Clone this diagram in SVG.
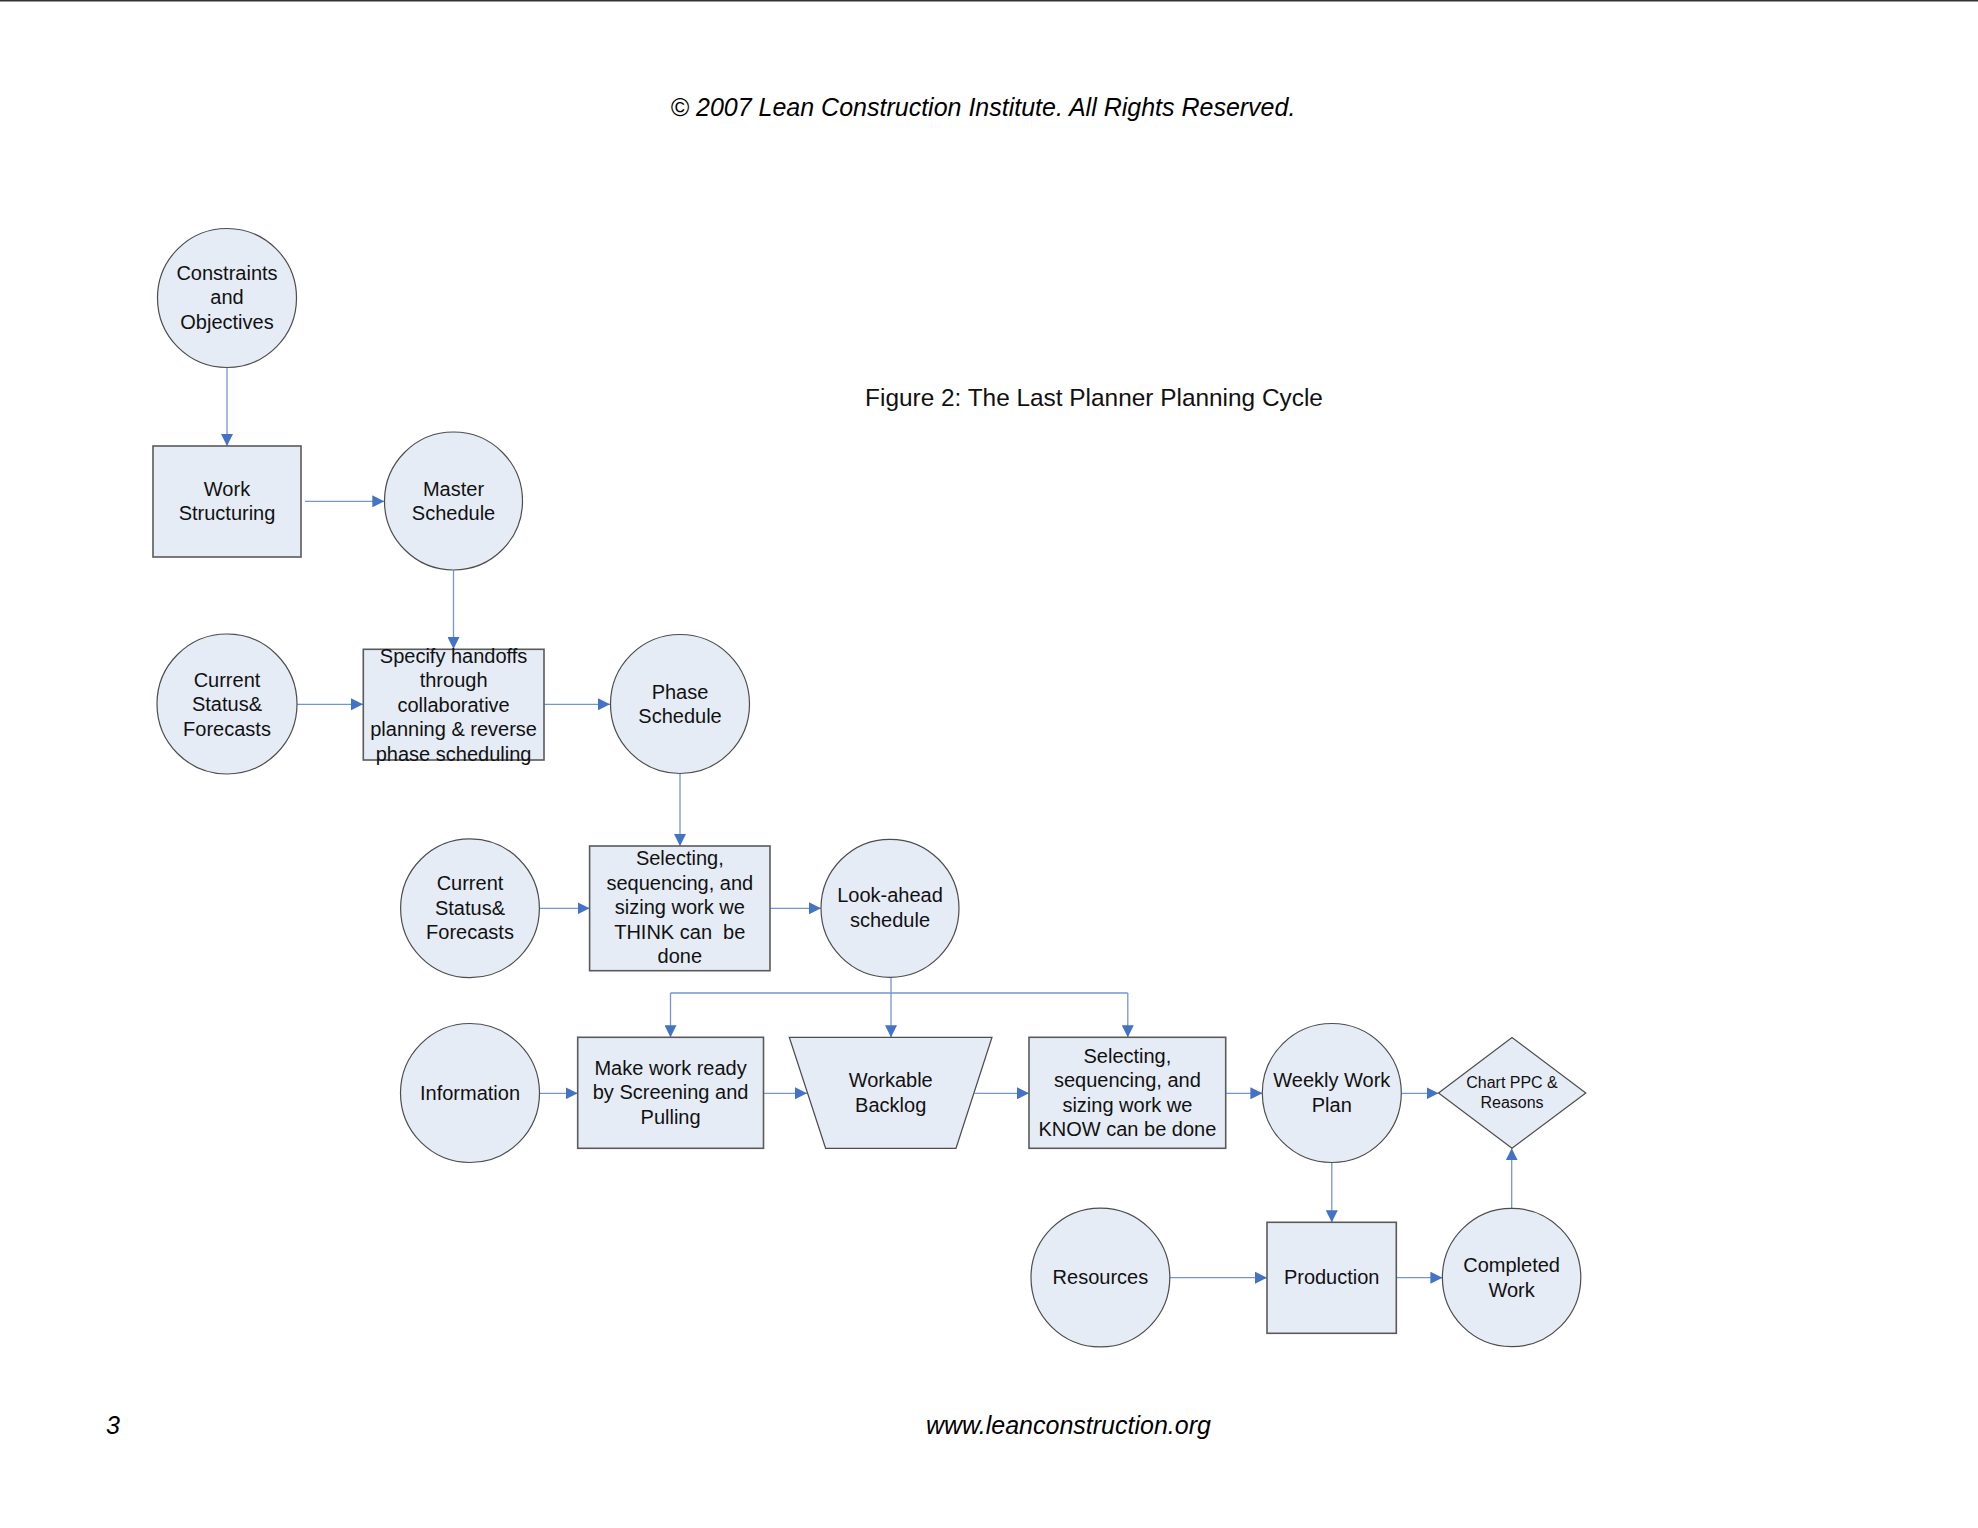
<svg xmlns="http://www.w3.org/2000/svg" width="1978" height="1528" viewBox="0 0 1978 1528">
<style>
.nd{fill:#E6ECF6;stroke:#4d4d4d;stroke-width:1.2}
.rc{fill:#E6ECF6;stroke:#5a5a5a;stroke-width:1.6}
.t{font-family:"Liberation Sans",Arial,sans-serif;font-size:20px;fill:#111;text-anchor:middle}
.ts{font-family:"Liberation Sans",Arial,sans-serif;font-size:16px;fill:#111;text-anchor:middle}
.hd{font-family:"Liberation Sans",Arial,sans-serif;font-size:25px;font-style:italic;fill:#000}
.cn{fill:none;stroke:#7396D0;stroke-width:1.3;marker-end:url(#ah)}
.cl{fill:none;stroke:#7396D0;stroke-width:1.3}
</style>
<defs>
<marker id="ah" viewBox="0 0 12 12" refX="12" refY="6" markerWidth="12" markerHeight="12" markerUnits="userSpaceOnUse" orient="auto">
<path d="M0,0 L12,6 L0,12 z" fill="#4472C4"/>
</marker>
</defs>
<rect width="1978" height="1528" fill="#fff"/>
<rect x="0" y="0" width="1978" height="1.5" fill="#333"/>
<text class="hd" x="983" y="116" text-anchor="middle">© 2007 Lean Construction Institute. All Rights Reserved.</text>
<text x="1094" y="406" text-anchor="middle" style="font-family:'Liberation Sans',Arial,sans-serif;font-size:24.4px;fill:#111">Figure 2: The Last Planner Planning Cycle</text>
<text class="hd" x="106" y="1434">3</text>
<text class="hd" x="926" y="1434">www.leanconstruction.org</text>

<g id="connectors">
<path class="cn" d="M227,367.5 V446"/>
<path class="cn" d="M305,501.3 H384.3"/>
<path class="cn" d="M453.5,570.5 V649"/>
<path class="cn" d="M297,704.3 H363"/>
<path class="cn" d="M544,704.3 H610"/>
<path class="cn" d="M680,773.5 V846"/>
<path class="cn" d="M539.5,908.3 H589.6"/>
<path class="cn" d="M770,908.3 H821"/>
<path class="cn" d="M891,977.5 V1037.3"/>
<path class="cl" d="M670.5,993 H1127.8"/>
<path class="cn" d="M670.5,993 V1037.3"/>
<path class="cn" d="M1127.8,993 V1037.3"/>
<path class="cn" d="M539.5,1093.3 H577.7"/>
<path class="cn" d="M763.5,1093.3 H807"/>
<path class="cn" d="M974.5,1093.3 H1029"/>
<path class="cn" d="M1225.7,1093.3 H1262.4"/>
<path class="cn" d="M1401.3,1093.3 H1438.5"/>
<path class="cn" d="M1331.8,1162.7 V1222.3"/>
<path class="cn" d="M1169.8,1277.7 H1267"/>
<path class="cn" d="M1396.3,1277.7 H1442.4"/>
<path class="cn" d="M1511.7,1208.3 V1148.3"/>
</g>

<g id="constraints">
<circle class="nd" cx="227" cy="298" r="69.5"/>
<text class="t" x="227" y="279.5">Constraints</text>
<text class="t" x="227" y="304">and</text>
<text class="t" x="227" y="328.5">Objectives</text>
</g>
<g id="work-structuring">
<rect class="rc" x="153" y="446" width="148" height="111"/>
<text class="t" x="227" y="495.5">Work</text>
<text class="t" x="227" y="520">Structuring</text>
</g>
<g id="master-schedule">
<circle class="nd" cx="453.5" cy="501" r="69"/>
<text class="t" x="453.5" y="495.5">Master</text>
<text class="t" x="453.5" y="520">Schedule</text>
</g>
<g id="current-status-1">
<circle class="nd" cx="227" cy="704" r="70"/>
<text class="t" x="227" y="686.5">Current</text>
<text class="t" x="227" y="711">Status&amp;</text>
<text class="t" x="227" y="735.5">Forecasts</text>
</g>
<g id="specify-handoffs">
<rect class="rc" x="363.3" y="649.3" width="180.7" height="110.7"/>
<text class="t" x="453.6" y="662.5">Specify handoffs</text>
<text class="t" x="453.6" y="687">through</text>
<text class="t" x="453.6" y="711.5">collaborative</text>
<text class="t" x="453.6" y="736">planning &amp; reverse</text>
<text class="t" x="453.6" y="760.5">phase scheduling</text>
</g>
<g id="phase-schedule">
<circle class="nd" cx="680" cy="704" r="69.5"/>
<text class="t" x="680" y="698.5">Phase</text>
<text class="t" x="680" y="723">Schedule</text>
</g>
<g id="current-status-2">
<circle class="nd" cx="470" cy="908.3" r="69.4"/>
<text class="t" x="470" y="890">Current</text>
<text class="t" x="470" y="914.5">Status&amp;</text>
<text class="t" x="470" y="939">Forecasts</text>
</g>
<g id="select-think">
<rect class="rc" x="589.6" y="846" width="180.4" height="124.7"/>
<text class="t" x="679.8" y="865">Selecting,</text>
<text class="t" x="679.8" y="889.5">sequencing, and</text>
<text class="t" x="679.8" y="914">sizing work we</text>
<text class="t" x="679.8" y="938.5" xml:space="preserve">THINK can  be</text>
<text class="t" x="679.8" y="963">done</text>
</g>
<g id="look-ahead">
<circle class="nd" cx="890" cy="908.3" r="69"/>
<text class="t" x="890" y="902">Look-ahead</text>
<text class="t" x="890" y="926.5">schedule</text>
</g>
<g id="information">
<circle class="nd" cx="470" cy="1093" r="69.5"/>
<text class="t" x="470" y="1100">Information</text>
</g>
<g id="make-ready">
<rect class="rc" x="577.7" y="1037.3" width="185.8" height="111"/>
<text class="t" x="670.6" y="1074.8">Make work ready</text>
<text class="t" x="670.6" y="1099.3">by Screening and</text>
<text class="t" x="670.6" y="1123.8">Pulling</text>
</g>
<g id="workable-backlog">
<polygon class="nd" points="789.3,1037.3 992,1037.3 956,1148.3 825.6,1148.3"/>
<text class="t" x="890.7" y="1087">Workable</text>
<text class="t" x="890.7" y="1111.5">Backlog</text>
</g>
<g id="select-know">
<rect class="rc" x="1029" y="1037.3" width="196.7" height="111"/>
<text class="t" x="1127.4" y="1062.5">Selecting,</text>
<text class="t" x="1127.4" y="1087">sequencing, and</text>
<text class="t" x="1127.4" y="1111.5">sizing work we</text>
<text class="t" x="1127.4" y="1136">KNOW can be done</text>
</g>
<g id="weekly-work-plan">
<circle class="nd" cx="1331.8" cy="1093" r="69.5"/>
<text class="t" x="1331.8" y="1087">Weekly Work</text>
<text class="t" x="1331.8" y="1111.5">Plan</text>
</g>
<g id="chart-ppc">
<polygon class="nd" points="1438.5,1093 1512,1037.5 1585.8,1093 1512,1148.3"/>
<text class="ts" x="1512" y="1087.5">Chart PPC &amp;</text>
<text class="ts" x="1512" y="1107.5">Reasons</text>
</g>
<g id="resources">
<circle class="nd" cx="1100.4" cy="1277.5" r="69.4"/>
<text class="t" x="1100.4" y="1284">Resources</text>
</g>
<g id="production">
<rect class="rc" x="1267" y="1222.3" width="129.3" height="111"/>
<text class="t" x="1331.7" y="1284">Production</text>
</g>
<g id="completed-work">
<circle class="nd" cx="1511.6" cy="1277.5" r="69.2"/>
<text class="t" x="1511.6" y="1272">Completed</text>
<text class="t" x="1511.6" y="1296.5">Work</text>
</g>
</svg>
